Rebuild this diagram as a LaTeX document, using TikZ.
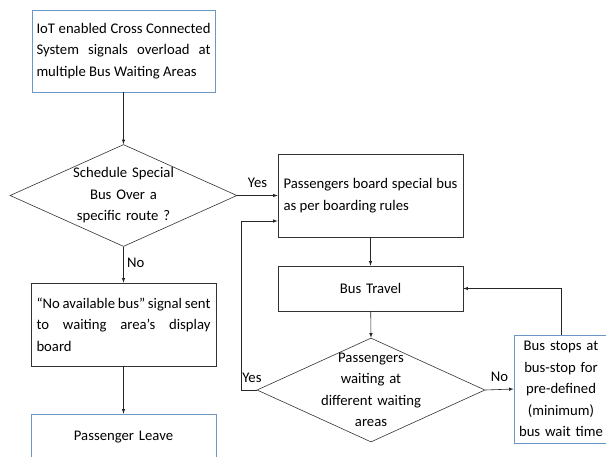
\documentclass[tikz,border=0pt]{standalone}
\usepackage{fontspec}
\setmainfont{Carlito}
\usetikzlibrary{shapes.geometric}
\definecolor{boxblue}{RGB}{108,150,196}
\begin{document}
\begin{tikzpicture}
[
 x=1pt,y=-1pt,
 line width=0.6pt,
 >={latex},
 font=\fontsize{14.7}{21.5}\selectfont,
 box/.style={draw=black!80,rectangle,minimum width=185pt,minimum height=83pt,inner sep=0pt,text width=174pt,align=justify},
 bluebox/.style={box,draw=boxblue},
 decision/.style={draw=black!80,diamond,inner sep=-10pt,text width=104pt,align=center,minimum width=227pt,minimum height=102pt,shape aspect=2.2},
 link/.style={draw=black!85,->}
]
\useasboundingbox (0,0) rectangle (606,456);
\node (iot-alert) [bluebox,minimum width=183pt,minimum height=82pt] at (123.5,51) {IoT enabled Cross Connected\linebreak System signals overload at\linebreak multiple Bus Waiting Areas};
\node (sched-q) [decision] at (123.5,195.5) {Schedule Special\\ Bus Over a\\ specific route ?};
\node (no-bus) [box] at (123.5,324.5) {``No available bus'' signal sent\linebreak to waiting area's display\linebreak board};
\node (leave) [bluebox,minimum height=46pt,align=center] at (123.5,437) {Passenger Leave};
\node (board) [box] at (370.5,195.5) {Passengers board special bus\linebreak as per boarding rules};
\node (travel) [box,minimum height=45pt,align=center] at (370.5,288.5) {Bus Travel};
\node (wait-q) [decision,minimum width=228pt,minimum height=104pt] at (371,390) {Passengers\\ waiting at\\ different waiting\\ areas};
\node (stop-wait) [bluebox,minimum width=94pt,minimum height=108pt,text width=90pt,align=center] at (561,389) {Bus stops at\\ bus-stop for\\ pre-defined\\ (minimum)\\ bus wait time};
\draw[link] (iot-alert) -- (sched-q);
\draw[link] (sched-q.east) -- node (yes-a) [above,yshift=4pt] {Yes} (board.west);
\draw[link] (sched-q.south) -- node (no-a) [right,pos=0.45] {No} (no-bus.north);
\draw[link] (no-bus) -- (leave);
\draw[link] (board) -- (travel);
\draw[link] (travel) -- (wait-q.north);
\draw[link] (wait-q.east) -- node (no-b) [above,yshift=4pt] {No} (stop-wait.west);
\draw[link] (wait-q.west) -- ++(-15,0) node (yes-b) [above right,xshift=-3pt,yshift=4pt] {Yes} |- ([yshift=-25.5pt]board.west);
\draw[link] (stop-wait.north) |- (travel.east);
\end{tikzpicture}
\end{document}
